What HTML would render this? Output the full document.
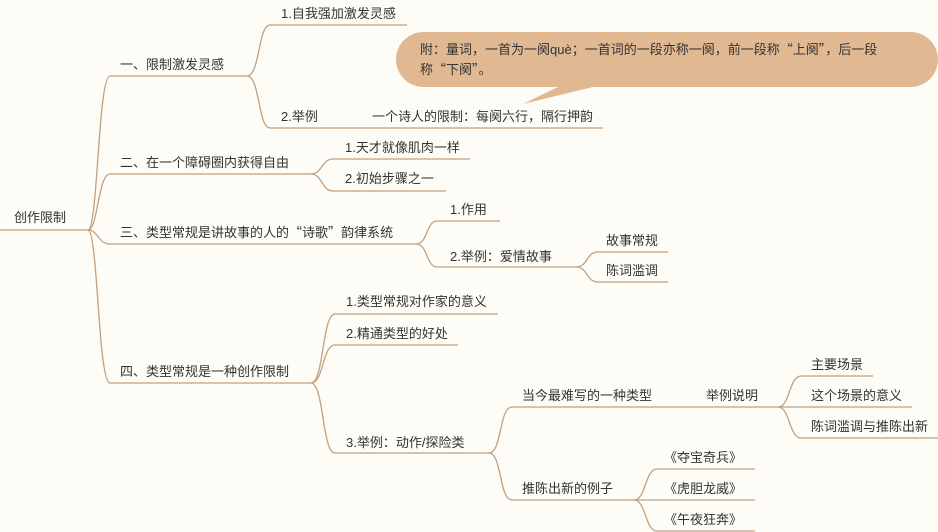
<!DOCTYPE html>
<html><head><meta charset="utf-8"><style>
html,body{margin:0;padding:0;background:#fdfcf6;}
svg{display:block;}
text{font-family:"Liberation Sans","Noto Sans CJK SC",sans-serif;font-size:13px;fill:#333;}
.q{font-family:"Noto Sans CJK SC",sans-serif;}
path{fill:none;stroke:#c3a07f;stroke-width:1.3;}
</style></head><body>
<svg width="938" height="532" viewBox="0 0 938 532">
<rect width="938" height="532" fill="#fdfcf6"/>
<path d="M0 230 H88"/>
<text x="14" y="222">创作限制</text>
<path d="M88 230 C98 230,98 76,110 76 H247"/>
<path d="M88 230 C98 230,98 174,110 174 H311"/>
<path d="M88 230 C98 230,98 244,110 244 H416"/>
<path d="M88 230 C98 230,98 383,110 383 H311"/>
<text x="120" y="69">一、限制激发灵感</text>
<text x="120" y="167">二、在一个障碍圈内获得自由</text>
<text x="120" y="237">三、类型常规是讲故事的人的<tspan class="q">“</tspan>诗歌<tspan class="q">”</tspan>韵律系统</text>
<text x="120" y="376">四、类型常规是一种创作限制</text>
<path d="M247 76 C260 76,258 25,270 25 H407"/>
<path d="M247 76 C260 76,258 128,270 128 H603"/>
<text x="281" y="18">1.自我强加激发灵感</text>
<text x="281" y="121">2.举例</text>
<text x="372" y="121">一个诗人的限制：每阕六行，隔行押韵</text>
<rect x="396" y="32" width="542" height="55" rx="27.5" fill="#e0b891"/>
<polygon points="560,86 597,86 523,104" fill="#e0b891"/>
<text x="420" y="54">附：量词，一首为一阕què；一首词的一段亦称一阕，前一段称<tspan class="q">“</tspan>上阕<tspan class="q">”</tspan>，后一段</text>
<text x="420" y="74">称<tspan class="q">“</tspan>下阕<tspan class="q">”</tspan>。</text>
<path d="M311 174 C322 174,322 159,333 159 H470"/>
<path d="M311 174 C322 174,322 191,333 191 H446"/>
<text x="345" y="152">1.天才就像肌肉一样</text>
<text x="345" y="183">2.初始步骤之一</text>
<path d="M416 244 C428 244,426 221,437 221 H500"/>
<path d="M416 244 C428 244,426 267,437 267 H576"/>
<text x="450" y="214">1.作用</text>
<text x="450" y="261">2.举例：爱情故事</text>
<path d="M576 267 C588 267,586 252,598 252 H668"/>
<path d="M576 267 C588 267,586 282,598 282 H668"/>
<text x="606" y="245">故事常规</text>
<text x="606" y="275">陈词滥调</text>
<path d="M311 383 C324 383,322 314,335 314 H498"/>
<path d="M311 383 C324 383,322 345,335 345 H458"/>
<path d="M311 383 C324 383,322 453,335 453 H489"/>
<text x="346" y="306">1.类型常规对作家的意义</text>
<text x="346" y="338">2.精通类型的好处</text>
<text x="346" y="447">3.举例：动作/探险类</text>
<path d="M489 453 C502 453,499 407,512 407 H778"/>
<path d="M489 453 C502 453,499 500,512 500 H634"/>
<text x="522" y="400">当今最难写的一种类型</text>
<text x="706" y="400">举例说明</text>
<text x="522" y="493">推陈出新的例子</text>
<path d="M778 407 C790 407,789 376,801 376 H873"/>
<path d="M778 407 H912"/>
<path d="M778 407 C790 407,789 438,801 438 H938"/>
<text x="811" y="369">主要场景</text>
<text x="811" y="400">这个场景的意义</text>
<text x="811" y="431">陈词滥调与推陈出新</text>
<path d="M634 500 C646 500,645 469,657 469 H755"/>
<path d="M634 500 H755"/>
<path d="M634 500 C646 500,645 531,657 531 H755"/>
<text x="664" y="462">《夺宝奇兵》</text>
<text x="664" y="493">《虎胆龙威》</text>
<text x="664" y="524">《午夜狂奔》</text>
</svg>
</body></html>
